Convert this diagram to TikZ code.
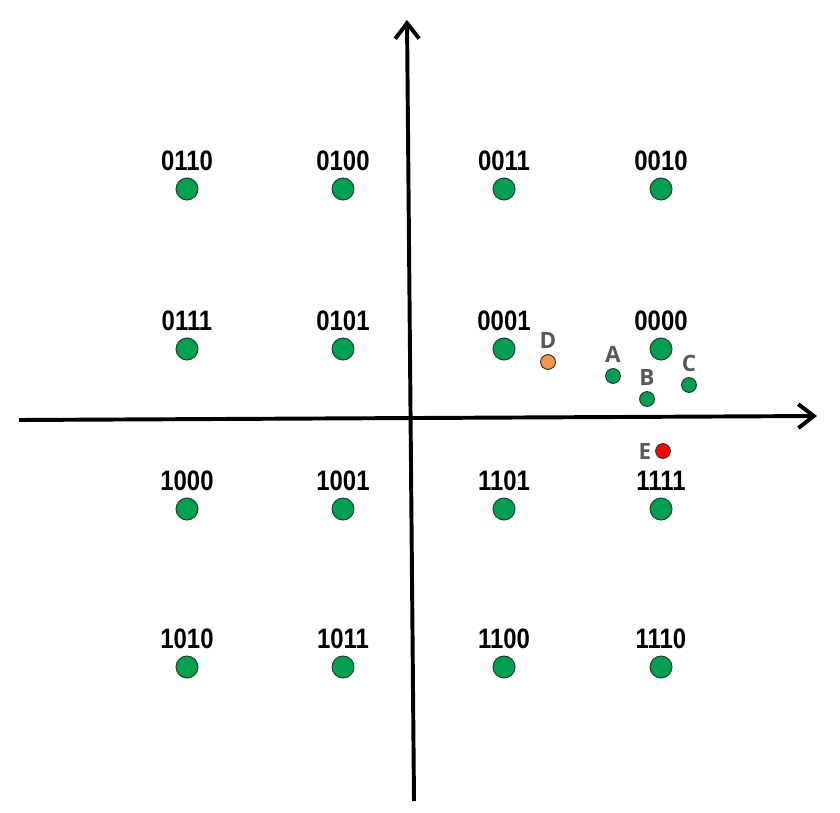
\documentclass[tikz,border=0pt]{standalone}
\usepackage{fontspec}
\setmainfont{Liberation Sans}
\newfontfamily\numfont[FakeStretch=0.85]{Liberation Sans}
\newfontfamily\letfont{Open Sans}
\usepackage{tikz}
\usetikzlibrary{arrows.meta, shapes}
\usepackage{xcolor}
\definecolor{dotgreen}{HTML}{00A050}
\definecolor{dotorange}{HTML}{F79646}
\definecolor{dotred}{HTML}{FF0000}
\definecolor{dotedge}{HTML}{2A3A30}
\definecolor{letgray}{HTML}{595959}

\begin{document}
\begin{tikzpicture}[x=0.025cm, y=-0.025cm,
    axis/.style={line width=2.8pt, -{Straight Barb[length=11pt, width=17pt]}},
    point/.style={draw=dotedge, line width=0.7pt, circle, fill=dotgreen, minimum size=0.55cm, inner sep=0pt},
    spoint/.style={draw=dotedge, line width=0.7pt, circle, fill=dotgreen, minimum size=0.37cm, inner sep=0pt},
    numlabel/.style={font=\numfont\bfseries\fontsize{20}{24}\selectfont, inner sep=0pt, label distance=4.5pt},
    letlabel/.style={font=\letfont\bfseries\fontsize{16}{19}\selectfont, text=letgray, inner sep=0pt, label distance=3.5pt}]
    \useasboundingbox (0,0) rectangle (840,813);

    % Axes
    \coordinate (xstart) at (19,420);
    \coordinate (xend) at (817,416);
    \coordinate (ystart) at (414,801);
    \coordinate (yend) at (407,20);
    \draw[axis] (xstart) -- (xend);
    \draw[axis] (ystart) -- (yend);

    % Constellation points
    \node[point, label={[numlabel]above:0110}] (p0110) at (187,189) {};
    \node[point, label={[numlabel]above:0100}] (p0100) at (343,189) {};
    \node[point, label={[numlabel]above:0011}] (p0011) at (504,189) {};
    \node[point, label={[numlabel]above:0010}] (p0010) at (661,189) {};
    \node[point, label={[numlabel]above:0111}] (p0111) at (187,349) {};
    \node[point, label={[numlabel]above:0101}] (p0101) at (343,349) {};
    \node[point, label={[numlabel]above:0001}] (p0001) at (504,349) {};
    \node[point, label={[numlabel]above:0000}] (p0000) at (661,349) {};
    \node[point, label={[numlabel]above:1000}] (p1000) at (187,509) {};
    \node[point, label={[numlabel]above:1001}] (p1001) at (343,509) {};
    \node[point, label={[numlabel]above:1101}] (p1101) at (504,509) {};
    \node[point, label={[numlabel]above:1111}] (p1111) at (661,509) {};
    \node[point, label={[numlabel]above:1010}] (p1010) at (187,667) {};
    \node[point, label={[numlabel]above:1011}] (p1011) at (343,667) {};
    \node[point, label={[numlabel]above:1100}] (p1100) at (504,667) {};
    \node[point, label={[numlabel]above:1110}] (p1110) at (661,667) {};

    % Received points
    \node[spoint, fill=dotorange, label={[letlabel]above:D}] (rD) at (548,362) {};
    \node[spoint, label={[letlabel]above:A}] (rA) at (613,376) {};
    \node[spoint, label={[letlabel]above:B}] (rB) at (647,399) {};
    \node[spoint, label={[letlabel]above:C}] (rC) at (689,385) {};
    \node[spoint, fill=dotred, label={[letlabel, label distance=2.5pt]left:E}] (rE) at (663,451) {};
\end{tikzpicture}
\end{document}
